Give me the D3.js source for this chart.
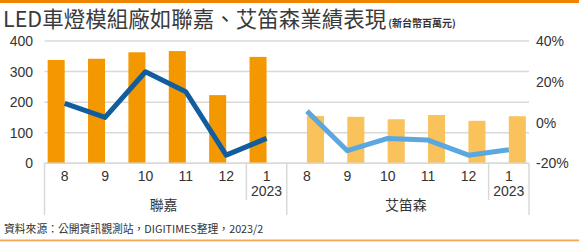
<!DOCTYPE html>
<html>
<head>
<meta charset="utf-8">
<title>LED車燈模組廠業績</title>
<script src="https://d3js.org/d3.v7.min.js"></script>
<style>
  body { margin: 0; background: #fff; }
  text { font-family: "Liberation Sans", "Noto Sans CJK TC", sans-serif; fill: #333; }
  .cjk { font-family: "Noto Sans CJK TC", "Liberation Sans", sans-serif; }
</style>
</head>
<body>
<div id="chart"></div>
<script>
// data
var companies = ["聯嘉", "艾笛森"];
var months = ["8", "9", "10", "11", "12", "1"];
var years = ["", "", "", "", "", "2023"];
var revLianjia = [338, 342, 363, 367, 223, 348];
var revEdison = [155, 152, 144, 158, 139, 154];
var yoyLianjia = [9.4, 2.5, 24.9, 15.1, -16, -7.8];
var yoyEdison = [5.6, -13.8, -7.8, -8.6, -16, -13.4];
var leftTicks = [0, 100, 200, 300, 400];
var rightTicks = [-20, 0, 20, 40];

var revenue = [revLianjia, revEdison];
var yoy = [yoyLianjia, yoyEdison];
var barColors = ["#f39800", "#f9c25a"];
var lineColors = ["#115d9e", "#5ba8e0"];

var width = 579, height = 242;
var plot = {left: 44.5, right: 529, top: 41, bottom: 163.3};

var svg = d3.select("#chart").append("svg")
    .attr("width", width)
    .attr("height", height);

// top + bottom rules
svg.append("rect").attr("x", 0).attr("y", 0).attr("width", width).attr("height", 3).attr("fill", "#f08300");
svg.append("rect").attr("x", 0).attr("y", 239.5).attr("width", width).attr("height", 1.8).attr("fill", "#f5a65a");

// title
var title = svg.append("text").attr("class", "cjk").attr("x", 3).attr("y", 27);
title.append("tspan").style("font-size", "21.5px").style("fill", "#3a3a3a")
  .text("LED車燈模組廠如聯嘉、艾笛森業績表現");
title.append("tspan").attr("dx", 2).style("font-size", "10px").style("font-weight", "bold")
  .text("(新台幣百萬元)");

// scales
var x0 = d3.scaleBand().domain(companies).range([plot.left, plot.right]);
var x1 = d3.scaleBand().domain(months).range([0, x0.bandwidth()]);
var x2 = d3.scaleBand().domain(companies).range([0, x1.bandwidth()]).paddingOuter(0.185);
var y = d3.scaleLinear().domain([0, 400]).range([plot.bottom, plot.top]);
var yR = d3.scaleLinear().domain([-20, 40]).range([plot.bottom, plot.top]);

// gridlines
svg.append("g").selectAll("line").data(leftTicks).enter().append("line")
  .attr("x1", plot.left).attr("x2", plot.right)
  .attr("y1", function(d) { return y(d); }).attr("y2", function(d) { return y(d); })
  .attr("stroke", "#d9d9d9").attr("stroke-width", 1.5);

// left ticks
svg.append("g").selectAll("text").data(leftTicks).enter().append("text")
  .attr("x", 33).attr("y", function(d) { return y(d); })
  .attr("dy", "0.36em").attr("text-anchor", "end")
  .style("font-size", "14px")
  .text(function(d) { return d; });

// right ticks
svg.append("g").selectAll("text").data(rightTicks).enter().append("text")
  .attr("x", 536).attr("y", function(d) { return yR(d); })
  .attr("dy", "0.36em").attr("text-anchor", "start")
  .style("font-size", "14px")
  .text(function(d) { return d + "%"; });

// bars
companies.forEach(function(c, ci) {
  svg.append("g").selectAll("rect").data(revenue[ci]).enter().append("rect")
    .attr("x", function(d, i) { return x0(c) + x1(months[i]) + x2(c); })
    .attr("width", x2.bandwidth())
    .attr("y", function(d) { return y(d); })
    .attr("height", function(d) { return y(0) - y(d); })
    .attr("fill", barColors[ci]);
});

// lines
var line = d3.line()
  .x(function(d) { return d.x; })
  .y(function(d) { return yR(d.v); });

companies.forEach(function(c, ci) {
  var pts = yoy[ci].map(function(v, i) {
    return {x: x0(c) + x1(months[i]) + x1.bandwidth() / 2, v: v};
  });
  svg.append("path").datum(pts)
    .attr("d", line)
    .attr("fill", "none")
    .attr("stroke", lineColors[ci])
    .attr("stroke-width", 5)
    .attr("stroke-linejoin", "round");
});

// category axis
var axisG = svg.append("g");
axisG.append("line")
  .attr("x1", plot.left).attr("x2", plot.right)
  .attr("y1", plot.bottom).attr("y2", plot.bottom)
  .attr("stroke", "#d9d9d9").attr("stroke-width", 1.5);

var seps = [plot.left].concat(companies.map(function(c) { return x0(c) + x0.bandwidth(); }));
axisG.selectAll("line.sep").data(seps).enter().append("line")
  .attr("class", "sep")
  .attr("x1", function(d) { return d; }).attr("x2", function(d) { return d; })
  .attr("y1", plot.bottom).attr("y2", 215)
  .attr("stroke", "#d9d9d9").attr("stroke-width", 1.5);

companies.forEach(function(c) {
  // year separator (between 12 and 1)
  var yx = x0(c) + x1(months[5]);
  axisG.append("line")
    .attr("x1", yx).attr("x2", yx)
    .attr("y1", plot.bottom).attr("y2", 200)
    .attr("stroke", "#d9d9d9").attr("stroke-width", 1.5);

  axisG.append("g").selectAll("text").data(months).enter().append("text")
    .attr("x", function(d) { return x0(c) + x1(d) + x1.bandwidth() / 2; })
    .attr("y", 176).attr("dy", "0.36em").attr("text-anchor", "middle")
    .style("font-size", "14px")
    .text(function(d) { return d; });

  axisG.append("g").selectAll("text").data(years).enter().append("text")
    .attr("x", function(d, i) { return x0(c) + x1(months[i]) + x1.bandwidth() / 2; })
    .attr("y", 190.5).attr("dy", "0.36em").attr("text-anchor", "middle")
    .style("font-size", "14px")
    .text(function(d) { return d; });

  axisG.append("text").attr("class", "cjk")
    .attr("x", x0(c) + x0.bandwidth() / 2 - 2)
    .attr("y", 205).attr("dy", "0.36em").attr("text-anchor", "middle")
    .style("font-size", "14px")
    .text(c);
});

// source
svg.append("text").attr("class", "cjk")
  .attr("x", 4).attr("y", 229.5).attr("dy", "0.36em")
  .style("font-size", "10.8px")
  .text("資料來源：公開資訊觀測站，DIGITIMES整理，2023/2");
</script>
</body>
</html>
